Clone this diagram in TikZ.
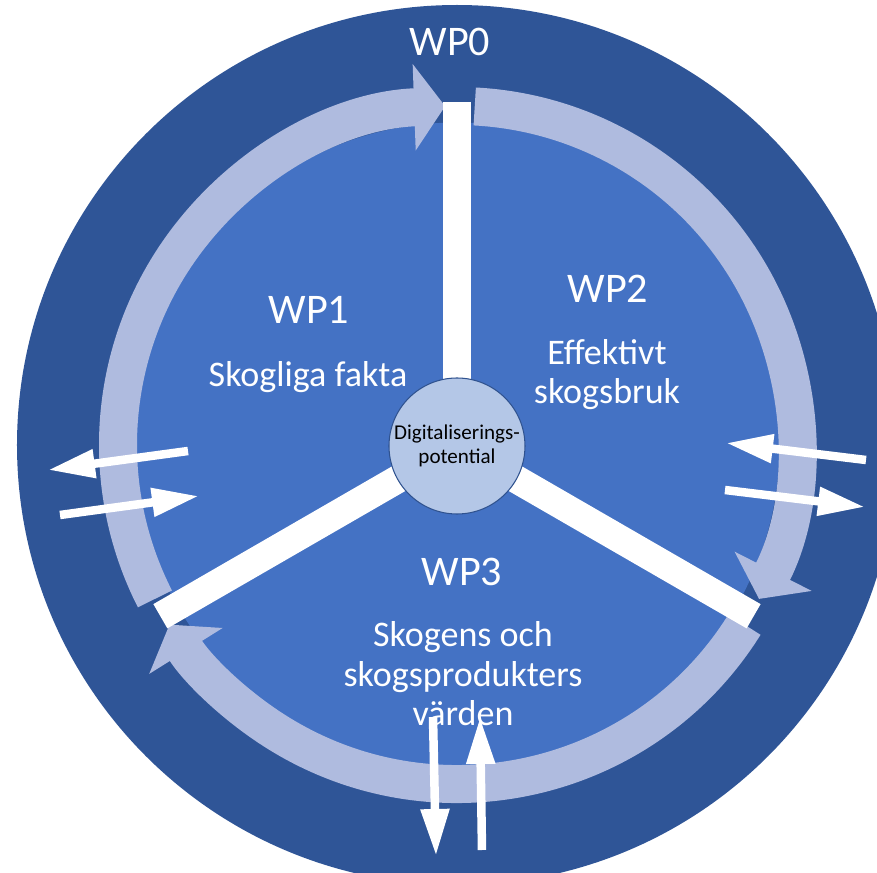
\documentclass[tikz,border=0pt]{standalone}
\usepackage{fontspec}
\setmainfont{Carlito}
\usetikzlibrary{arrows.meta}
\definecolor{wpdark}{HTML}{2F5597}
\definecolor{wpmid}{HTML}{4472C4}
\definecolor{wpring}{HTML}{AFBBDF}
\definecolor{wphub}{HTML}{B4C7E7}
\definecolor{hubedge}{HTML}{2F528F}

\begin{document}
\begin{tikzpicture}[
    ring/.style={line width=0.76cm, wpring, -{Triangle[width=1.7cm, length=0.62cm]}},
    spoke/.style={line width=0.56cm, white},
    flow/.style={line width=0.17cm, white, -{Triangle[width=0.54cm, length=0.94cm]}},
    wp/.style={text=white, font=\fontsize{24}{28}\selectfont},
    topic/.style={text=white, align=center, font=\fontsize{20.5}{22.5}\selectfont},
    hub/.style={circle, draw=hubedge, line width=0.6pt, fill=wphub, minimum size=2.72cm, inner sep=0pt, align=center, font=\fontsize{12}{14}\selectfont}
]
    \useasboundingbox (-9.14,-8.56) rectangle (8.40,8.90);

    % Discs
    \fill[wpdark] (0,0) circle (8.8);
    \fill[wpmid] (0,0) circle (6.45);

    % Ring arrows, clockwise
    \draw[ring] (207:6.78) arc[start angle=207, end angle=92, radius=6.78];
    \draw[ring] (87:6.78) arc[start angle=87, end angle=-27, radius=6.78];
    \draw[ring] (-32:6.78) arc[start angle=-32, end angle=-148, radius=6.78];

    % Spokes
    \coordinate (centre) at (0,0);
    \coordinate (spokeTop) at (90:6.85);
    \coordinate (spokeLeft) at (210:6.85);
    \coordinate (spokeRight) at (-30:6.85);
    \draw[spoke] (centre) -- (spokeTop);
    \draw[spoke] (centre) -- (spokeLeft);
    \draw[spoke] (centre) -- (spokeRight);

    \node [hub] (hub) at (0,-0.02) {Digitaliserings-\\potential};

    % Work packages
    \node [wp] (wp0) at (-0.14,8.06) {WP0};
    \node [wp] (wp1) at (-2.96,2.70) {WP1};
    \node [topic] (facts) at (-2.98,1.36) {Skogliga fakta};
    \node [wp] (wp2) at (3.02,3.12) {WP2};
    \node [topic] (forestry) at (3.00,1.41) {Effektivt\\skogsbruk};
    \node [wp] (wp3) at (0.10,-2.54) {WP3};
    \node [topic] (values) at (0.12,-4.58) {Skogens och\\skogsprodukters\\värden};

    % In and out arrows
    \coordinate (factsOutS) at (-5.38,-0.12);
    \coordinate (factsOutE) at (-8.18,-0.50);
    \coordinate (factsInS) at (-7.94,-1.40);
    \coordinate (factsInE) at (-5.16,-1.02);
    \coordinate (forestryInS) at (8.18,-0.30);
    \coordinate (forestryInE) at (5.38,0.04);
    \coordinate (forestryOutS) at (5.36,-0.90);
    \coordinate (forestryOutE) at (8.16,-1.24);
    \coordinate (valuesOutS) at (-0.48,-5.44);
    \coordinate (valuesOutE) at (-0.42,-8.22);
    \coordinate (valuesInS) at (0.50,-8.10);
    \coordinate (valuesInE) at (0.46,-5.44);

    \draw [flow] (factsOutS) -- (factsOutE);
    \draw [flow] (factsInS) -- (factsInE);
    \draw [flow] (forestryInS) -- (forestryInE);
    \draw [flow] (forestryOutS) -- (forestryOutE);
    \draw [flow] (valuesOutS) -- (valuesOutE);
    \draw [flow] (valuesInS) -- (valuesInE);

\end{tikzpicture}
\end{document}
